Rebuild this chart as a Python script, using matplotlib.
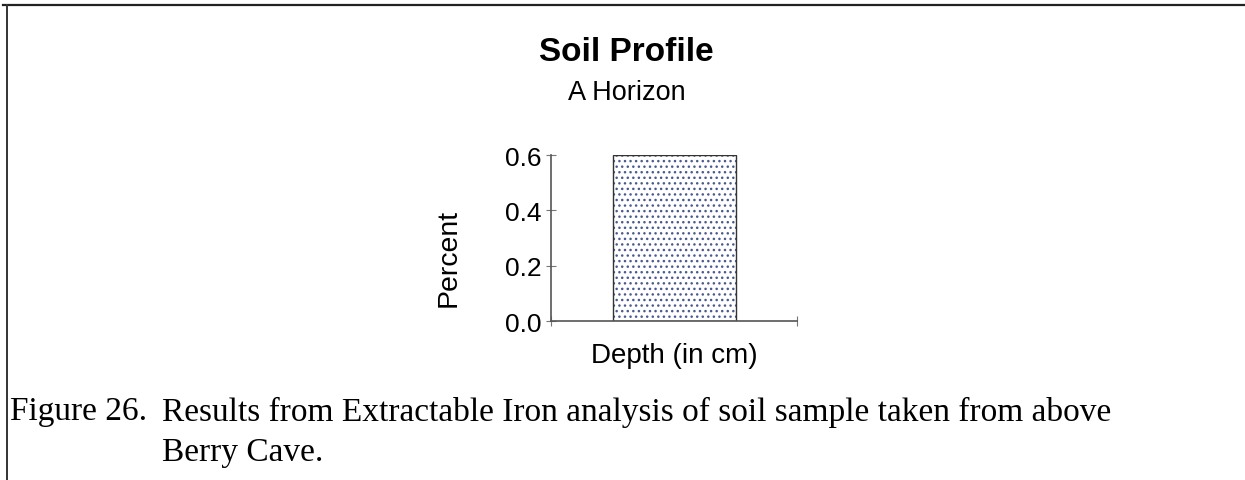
import matplotlib
matplotlib.use("Agg")
import matplotlib.pyplot as plt
from matplotlib.lines import Line2D

# chart data
categories = ["A Horizon"]
percent = [0.6]
y_ticks = [0.0, 0.2, 0.4, 0.6]
y_tick_labels = ["0.0", "0.2", "0.4", "0.6"]

title = "Soil Profile"
subtitle = "A Horizon"
x_label = "Depth (in cm)"
y_label = "Percent"
caption_num = "Figure 26."
caption_lines = ["Results from Extractable Iron analysis of soil sample taken from above",
                 "Berry Cave."]

W, H = 1245, 481
fig = plt.figure(figsize=(W / 100, H / 100), dpi=100)
fig.patch.set_facecolor("white")

sans = "Liberation Sans"
serif = "Liberation Serif"

# plot area
ax = fig.add_axes([551 / W, 1 - 322 / H, 246 / W, 166 / H])
xpos = list(range(len(categories)))
ax.bar(xpos, percent, width=0.5, color="white", edgecolor="#4a5a8e",
       hatch="...", linewidth=0)
ax.bar(xpos, percent, width=0.5, fill=False, edgecolor="#333333", linewidth=1.0)
ax.set_xlim(-0.5, 0.5)
ax.set_ylim(0, 0.6)

for s in ["top", "right"]:
    ax.spines[s].set_visible(False)
for s in ["left", "bottom"]:
    ax.spines[s].set_color("#555555")
    ax.spines[s].set_linewidth(1.2)

ax.set_yticks(y_ticks)
ax.set_yticklabels(y_tick_labels, fontsize=19, family=sans)
ax.set_xticks([-0.5, 0.5])
ax.set_xticklabels([])
ax.tick_params(axis="both", direction="inout", length=7, width=0.8,
               color="#777777", pad=3)

# titles and axis labels
fig.text(626 / W, 1 - 53 / H, title, ha="center", va="center",
         fontsize=24, fontweight="bold", family=sans)
fig.text(627 / W, 1 - 93 / H, subtitle, ha="center", va="center",
         fontsize=19.5, family=sans)
fig.text(674 / W, 1 - 356 / H, x_label, ha="center", va="center",
         fontsize=20, family=sans)
fig.text(449 / W, 1 - 258 / H, y_label, ha="center", va="center",
         rotation=90, fontsize=20.5, family=sans)

# caption with hanging indent
fig.text(10 / W, 1 - 412 / H, caption_num, ha="left", va="center",
         fontsize=24, family=serif)
fig.text(162 / W, 1 - 412 / H, caption_lines[0], ha="left", va="center",
         fontsize=24, family=serif)
fig.text(162 / W, 1 - 453 / H, caption_lines[1], ha="left", va="center",
         fontsize=24, family=serif)

# frame lines
fig.add_artist(Line2D([3 / W, 1.0], [1 - 6 / H, 1 - 6 / H],
                      transform=fig.transFigure, color="#222222", linewidth=1.6))
fig.add_artist(Line2D([7 / W, 7 / W], [0, 1 - 6 / H],
                      transform=fig.transFigure, color="#333333", linewidth=1.4))

fig.savefig("out.png", dpi=100)
